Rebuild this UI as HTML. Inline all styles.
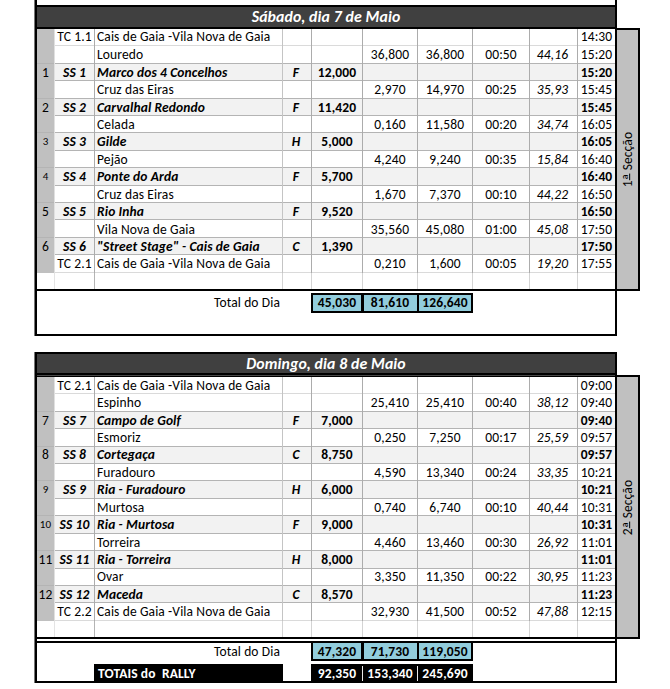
<!DOCTYPE html>
<html><head><meta charset="utf-8"><title>Rally</title><script>(function(){try{var c=document.createElement('canvas').getContext('2d');var t='Cais de Gaia Vila Nova';c.font='50px Carlito,monospace';var a=c.measureText(t).width;c.font='50px monospace';var b=c.measureText(t).width;if(Math.abs(a-b)<0.01){document.documentElement.className+=' nc';}}catch(e){}})();</script><style>
*{margin:0;padding:0;box-sizing:content-box}
html,body{width:670px;height:689px;background:#fff;overflow:hidden}
body{position:relative;font-family:Carlito, "Liberation Sans", sans-serif;font-size:13.5px;color:#000;letter-spacing:0.12px}
.a{position:absolute}
.t{white-space:nowrap;overflow:visible}
.b{font-weight:bold}
.i{font-style:italic}
.bi{font-weight:bold;font-style:italic}
.w{color:#fff}
.sm{font-size:11px}
.hd{font-size:15.8px;font-weight:bold;font-style:italic;color:#fff}
.sec{display:flex;align-items:center;justify-content:center}
.sec span{display:block;transform:rotate(-90deg);white-space:nowrap}
.ord{font-weight:normal;font-size:1.2em;line-height:0;vertical-align:-2px;text-decoration:underline 1px;text-underline-offset:-5px}
.nc body{font-size:11.8px;letter-spacing:0}
.nc .hd{font-size:14.4px}
.nc .sm{font-size:9.6px}
</style></head>
<body>
<div class="a" style="left:34px;top:0px;width:1px;height:5px;background:#777;"></div>
<div class="a" style="left:35px;top:0px;width:2px;height:5px;background:#000;"></div>
<div class="a" style="left:615px;top:0px;width:2px;height:5px;background:#000;"></div>
<div class="a" style="left:34px;top:5px;width:583px;height:2px;background:#000;"></div>
<div class="a" style="left:37px;top:7px;width:578px;height:20px;background:#404040;"></div>
<div class="a t hd" style="left:37px;top:7px;width:578px;height:20px;line-height:20px;text-align:center;">Sábado, dia 7 de Maio</div>
<div class="a" style="left:34px;top:27px;width:583px;height:2px;background:#000;"></div>
<div class="a" style="left:37px;top:29px;width:17px;height:17px;background:#c0c0c0;"></div>
<div class="a" style="left:37px;top:46px;width:17px;height:18px;background:#c0c0c0;"></div>
<div class="a" style="left:55px;top:64px;width:560px;height:16px;background:#f2f2f2;"></div>
<div class="a" style="left:37px;top:64px;width:17px;height:17px;background:#c0c0c0;"></div>
<div class="a" style="left:37px;top:81px;width:17px;height:18px;background:#c0c0c0;"></div>
<div class="a" style="left:55px;top:99px;width:560px;height:16px;background:#f2f2f2;"></div>
<div class="a" style="left:37px;top:99px;width:17px;height:17px;background:#c0c0c0;"></div>
<div class="a" style="left:37px;top:116px;width:17px;height:17px;background:#c0c0c0;"></div>
<div class="a" style="left:55px;top:133px;width:560px;height:17px;background:#f2f2f2;"></div>
<div class="a" style="left:37px;top:133px;width:17px;height:18px;background:#c0c0c0;"></div>
<div class="a" style="left:37px;top:151px;width:17px;height:17px;background:#c0c0c0;"></div>
<div class="a" style="left:55px;top:168px;width:560px;height:17px;background:#f2f2f2;"></div>
<div class="a" style="left:37px;top:168px;width:17px;height:18px;background:#c0c0c0;"></div>
<div class="a" style="left:37px;top:186px;width:17px;height:17px;background:#c0c0c0;"></div>
<div class="a" style="left:55px;top:203px;width:560px;height:16px;background:#f2f2f2;"></div>
<div class="a" style="left:37px;top:203px;width:17px;height:17px;background:#c0c0c0;"></div>
<div class="a" style="left:37px;top:220px;width:17px;height:18px;background:#c0c0c0;"></div>
<div class="a" style="left:55px;top:238px;width:560px;height:16px;background:#f2f2f2;"></div>
<div class="a" style="left:37px;top:238px;width:17px;height:17px;background:#c0c0c0;"></div>
<div class="a" style="left:37px;top:255px;width:17px;height:18px;background:#c0c0c0;"></div>
<div class="a" style="left:55px;top:45px;width:560px;height:1px;background:#dadada;"></div>
<div class="a" style="left:55px;top:63px;width:560px;height:1px;background:#b4b4b4;"></div>
<div class="a" style="left:37px;top:63px;width:17px;height:1px;background:#b4b4b4;"></div>
<div class="a" style="left:55px;top:80px;width:560px;height:1px;background:#b4b4b4;"></div>
<div class="a" style="left:55px;top:98px;width:560px;height:1px;background:#b4b4b4;"></div>
<div class="a" style="left:37px;top:98px;width:17px;height:1px;background:#b4b4b4;"></div>
<div class="a" style="left:55px;top:115px;width:560px;height:1px;background:#b4b4b4;"></div>
<div class="a" style="left:55px;top:132px;width:560px;height:1px;background:#b4b4b4;"></div>
<div class="a" style="left:37px;top:132px;width:17px;height:1px;background:#b4b4b4;"></div>
<div class="a" style="left:55px;top:150px;width:560px;height:1px;background:#b4b4b4;"></div>
<div class="a" style="left:55px;top:167px;width:560px;height:1px;background:#b4b4b4;"></div>
<div class="a" style="left:37px;top:167px;width:17px;height:1px;background:#b4b4b4;"></div>
<div class="a" style="left:55px;top:185px;width:560px;height:1px;background:#b4b4b4;"></div>
<div class="a" style="left:55px;top:202px;width:560px;height:1px;background:#b4b4b4;"></div>
<div class="a" style="left:37px;top:202px;width:17px;height:1px;background:#b4b4b4;"></div>
<div class="a" style="left:55px;top:219px;width:560px;height:1px;background:#b4b4b4;"></div>
<div class="a" style="left:55px;top:237px;width:560px;height:1px;background:#b4b4b4;"></div>
<div class="a" style="left:37px;top:237px;width:17px;height:1px;background:#b4b4b4;"></div>
<div class="a" style="left:55px;top:254px;width:560px;height:1px;background:#b4b4b4;"></div>
<div class="a" style="left:55px;top:272px;width:560px;height:1px;background:#dadada;"></div>
<div class="a" style="left:54px;top:29px;width:1px;height:244px;background:#e0e0e0;"></div>
<div class="a" style="left:54px;top:273px;width:1px;height:16px;background:#e4e4e4;"></div>
<div class="a" style="left:94px;top:29px;width:1px;height:244px;background:#acacac;"></div>
<div class="a" style="left:94px;top:273px;width:1px;height:16px;background:#b4b4b4;"></div>
<div class="a" style="left:282px;top:29px;width:1px;height:244px;background:#c4c4c4;"></div>
<div class="a" style="left:282px;top:273px;width:1px;height:16px;background:#d4d4d4;"></div>
<div class="a" style="left:311px;top:29px;width:1px;height:244px;background:#acacac;"></div>
<div class="a" style="left:311px;top:273px;width:1px;height:16px;background:#d4d4d4;"></div>
<div class="a" style="left:362px;top:29px;width:1px;height:244px;background:#acacac;"></div>
<div class="a" style="left:362px;top:273px;width:1px;height:16px;background:#d4d4d4;"></div>
<div class="a" style="left:417px;top:29px;width:1px;height:244px;background:#acacac;"></div>
<div class="a" style="left:417px;top:273px;width:1px;height:16px;background:#d4d4d4;"></div>
<div class="a" style="left:472px;top:29px;width:1px;height:244px;background:#acacac;"></div>
<div class="a" style="left:472px;top:273px;width:1px;height:16px;background:#d4d4d4;"></div>
<div class="a" style="left:529px;top:29px;width:1px;height:244px;background:#acacac;"></div>
<div class="a" style="left:529px;top:273px;width:1px;height:16px;background:#d4d4d4;"></div>
<div class="a" style="left:577px;top:29px;width:1px;height:244px;background:#acacac;"></div>
<div class="a" style="left:577px;top:273px;width:1px;height:16px;background:#d4d4d4;"></div>
<div class="a t " style="left:55px;top:28px;width:39px;height:17px;line-height:17px;text-align:center;">TC 1.1</div>
<div class="a t " style="left:95px;top:28px;width:187px;height:17px;line-height:17px;text-align:left;padding-left:2px;width:185px;">Cais de Gaia -Vila Nova de Gaia</div>
<div class="a t " style="left:578px;top:28px;width:37px;height:17px;line-height:17px;text-align:center;">14:30</div>
<div class="a t " style="left:95px;top:46px;width:187px;height:17px;line-height:17px;text-align:left;padding-left:2px;width:185px;">Louredo</div>
<div class="a t " style="left:363px;top:46px;width:54px;height:17px;line-height:17px;text-align:center;">36,800</div>
<div class="a t " style="left:418px;top:46px;width:54px;height:17px;line-height:17px;text-align:center;">36,800</div>
<div class="a t " style="left:473px;top:46px;width:56px;height:17px;line-height:17px;text-align:center;">00:50</div>
<div class="a t i" style="left:530px;top:46px;width:45px;height:17px;line-height:17px;text-align:center;">44,16</div>
<div class="a t " style="left:578px;top:46px;width:37px;height:17px;line-height:17px;text-align:center;">15:20</div>
<div class="a t " style="left:37px;top:64px;width:17px;height:17px;line-height:17px;text-align:center;">1</div>
<div class="a t bi" style="left:55px;top:64px;width:39px;height:17px;line-height:17px;text-align:center;">SS 1</div>
<div class="a t bi" style="left:95px;top:64px;width:187px;height:17px;line-height:17px;text-align:left;padding-left:2px;width:185px;">Marco dos 4 Concelhos</div>
<div class="a t bi" style="left:283px;top:64px;width:26px;height:17px;line-height:17px;text-align:center;">F</div>
<div class="a t b" style="left:312px;top:64px;width:50px;height:17px;line-height:17px;text-align:center;">12,000</div>
<div class="a t b" style="left:578px;top:64px;width:37px;height:17px;line-height:17px;text-align:center;">15:20</div>
<div class="a t " style="left:95px;top:81px;width:187px;height:17px;line-height:17px;text-align:left;padding-left:2px;width:185px;">Cruz das Eiras</div>
<div class="a t " style="left:363px;top:81px;width:54px;height:17px;line-height:17px;text-align:center;">2,970</div>
<div class="a t " style="left:418px;top:81px;width:54px;height:17px;line-height:17px;text-align:center;">14,970</div>
<div class="a t " style="left:473px;top:81px;width:56px;height:17px;line-height:17px;text-align:center;">00:25</div>
<div class="a t i" style="left:530px;top:81px;width:45px;height:17px;line-height:17px;text-align:center;">35,93</div>
<div class="a t " style="left:578px;top:81px;width:37px;height:17px;line-height:17px;text-align:center;">15:45</div>
<div class="a t " style="left:37px;top:99px;width:17px;height:17px;line-height:17px;text-align:center;">2</div>
<div class="a t bi" style="left:55px;top:99px;width:39px;height:17px;line-height:17px;text-align:center;">SS 2</div>
<div class="a t bi" style="left:95px;top:99px;width:187px;height:17px;line-height:17px;text-align:left;padding-left:2px;width:185px;">Carvalhal Redondo</div>
<div class="a t bi" style="left:283px;top:99px;width:26px;height:17px;line-height:17px;text-align:center;">F</div>
<div class="a t b" style="left:312px;top:99px;width:50px;height:17px;line-height:17px;text-align:center;">11,420</div>
<div class="a t b" style="left:578px;top:99px;width:37px;height:17px;line-height:17px;text-align:center;">15:45</div>
<div class="a t " style="left:95px;top:116px;width:187px;height:17px;line-height:17px;text-align:left;padding-left:2px;width:185px;">Celada</div>
<div class="a t " style="left:363px;top:116px;width:54px;height:17px;line-height:17px;text-align:center;">0,160</div>
<div class="a t " style="left:418px;top:116px;width:54px;height:17px;line-height:17px;text-align:center;">11,580</div>
<div class="a t " style="left:473px;top:116px;width:56px;height:17px;line-height:17px;text-align:center;">00:20</div>
<div class="a t i" style="left:530px;top:116px;width:45px;height:17px;line-height:17px;text-align:center;">34,74</div>
<div class="a t " style="left:578px;top:116px;width:37px;height:17px;line-height:17px;text-align:center;">16:05</div>
<div class="a t sm" style="left:37px;top:133px;width:17px;height:17px;line-height:17px;text-align:center;">3</div>
<div class="a t bi" style="left:55px;top:133px;width:39px;height:17px;line-height:17px;text-align:center;">SS 3</div>
<div class="a t bi" style="left:95px;top:133px;width:187px;height:17px;line-height:17px;text-align:left;padding-left:2px;width:185px;">Gilde</div>
<div class="a t bi" style="left:283px;top:133px;width:26px;height:17px;line-height:17px;text-align:center;">H</div>
<div class="a t b" style="left:312px;top:133px;width:50px;height:17px;line-height:17px;text-align:center;">5,000</div>
<div class="a t b" style="left:578px;top:133px;width:37px;height:17px;line-height:17px;text-align:center;">16:05</div>
<div class="a t " style="left:95px;top:151px;width:187px;height:17px;line-height:17px;text-align:left;padding-left:2px;width:185px;">Pejão</div>
<div class="a t " style="left:363px;top:151px;width:54px;height:17px;line-height:17px;text-align:center;">4,240</div>
<div class="a t " style="left:418px;top:151px;width:54px;height:17px;line-height:17px;text-align:center;">9,240</div>
<div class="a t " style="left:473px;top:151px;width:56px;height:17px;line-height:17px;text-align:center;">00:35</div>
<div class="a t i" style="left:530px;top:151px;width:45px;height:17px;line-height:17px;text-align:center;">15,84</div>
<div class="a t " style="left:578px;top:151px;width:37px;height:17px;line-height:17px;text-align:center;">16:40</div>
<div class="a t sm" style="left:37px;top:168px;width:17px;height:17px;line-height:17px;text-align:center;">4</div>
<div class="a t bi" style="left:55px;top:168px;width:39px;height:17px;line-height:17px;text-align:center;">SS 4</div>
<div class="a t bi" style="left:95px;top:168px;width:187px;height:17px;line-height:17px;text-align:left;padding-left:2px;width:185px;">Ponte do Arda</div>
<div class="a t bi" style="left:283px;top:168px;width:26px;height:17px;line-height:17px;text-align:center;">F</div>
<div class="a t b" style="left:312px;top:168px;width:50px;height:17px;line-height:17px;text-align:center;">5,700</div>
<div class="a t b" style="left:578px;top:168px;width:37px;height:17px;line-height:17px;text-align:center;">16:40</div>
<div class="a t " style="left:95px;top:186px;width:187px;height:17px;line-height:17px;text-align:left;padding-left:2px;width:185px;">Cruz das Eiras</div>
<div class="a t " style="left:363px;top:186px;width:54px;height:17px;line-height:17px;text-align:center;">1,670</div>
<div class="a t " style="left:418px;top:186px;width:54px;height:17px;line-height:17px;text-align:center;">7,370</div>
<div class="a t " style="left:473px;top:186px;width:56px;height:17px;line-height:17px;text-align:center;">00:10</div>
<div class="a t i" style="left:530px;top:186px;width:45px;height:17px;line-height:17px;text-align:center;">44,22</div>
<div class="a t " style="left:578px;top:186px;width:37px;height:17px;line-height:17px;text-align:center;">16:50</div>
<div class="a t " style="left:37px;top:203px;width:17px;height:17px;line-height:17px;text-align:center;">5</div>
<div class="a t bi" style="left:55px;top:203px;width:39px;height:17px;line-height:17px;text-align:center;">SS 5</div>
<div class="a t bi" style="left:95px;top:203px;width:187px;height:17px;line-height:17px;text-align:left;padding-left:2px;width:185px;">Rio Inha</div>
<div class="a t bi" style="left:283px;top:203px;width:26px;height:17px;line-height:17px;text-align:center;">F</div>
<div class="a t b" style="left:312px;top:203px;width:50px;height:17px;line-height:17px;text-align:center;">9,520</div>
<div class="a t b" style="left:578px;top:203px;width:37px;height:17px;line-height:17px;text-align:center;">16:50</div>
<div class="a t " style="left:95px;top:221px;width:187px;height:17px;line-height:17px;text-align:left;padding-left:2px;width:185px;">Vila Nova de Gaia</div>
<div class="a t " style="left:363px;top:221px;width:54px;height:17px;line-height:17px;text-align:center;">35,560</div>
<div class="a t " style="left:418px;top:221px;width:54px;height:17px;line-height:17px;text-align:center;">45,080</div>
<div class="a t " style="left:473px;top:221px;width:56px;height:17px;line-height:17px;text-align:center;">01:00</div>
<div class="a t i" style="left:530px;top:221px;width:45px;height:17px;line-height:17px;text-align:center;">45,08</div>
<div class="a t " style="left:578px;top:221px;width:37px;height:17px;line-height:17px;text-align:center;">17:50</div>
<div class="a t " style="left:37px;top:238px;width:17px;height:17px;line-height:17px;text-align:center;">6</div>
<div class="a t bi" style="left:55px;top:238px;width:39px;height:17px;line-height:17px;text-align:center;">SS 6</div>
<div class="a t bi" style="left:95px;top:238px;width:187px;height:17px;line-height:17px;text-align:left;padding-left:2px;width:185px;">"Street Stage" - Cais de Gaia</div>
<div class="a t bi" style="left:283px;top:238px;width:26px;height:17px;line-height:17px;text-align:center;">C</div>
<div class="a t b" style="left:312px;top:238px;width:50px;height:17px;line-height:17px;text-align:center;">1,390</div>
<div class="a t b" style="left:578px;top:238px;width:37px;height:17px;line-height:17px;text-align:center;">17:50</div>
<div class="a t " style="left:55px;top:255px;width:39px;height:17px;line-height:17px;text-align:center;">TC 2.1</div>
<div class="a t " style="left:95px;top:255px;width:187px;height:17px;line-height:17px;text-align:left;padding-left:2px;width:185px;">Cais de Gaia -Vila Nova de Gaia</div>
<div class="a t " style="left:363px;top:255px;width:54px;height:17px;line-height:17px;text-align:center;">0,210</div>
<div class="a t " style="left:418px;top:255px;width:54px;height:17px;line-height:17px;text-align:center;">1,600</div>
<div class="a t " style="left:473px;top:255px;width:56px;height:17px;line-height:17px;text-align:center;">00:05</div>
<div class="a t i" style="left:530px;top:255px;width:45px;height:17px;line-height:17px;text-align:center;">19,20</div>
<div class="a t " style="left:578px;top:255px;width:37px;height:17px;line-height:17px;text-align:center;">17:55</div>
<div class="a" style="left:34px;top:289px;width:583px;height:2px;background:#000;"></div>
<div class="a" style="left:34px;top:334px;width:583px;height:2px;background:#000;"></div>
<div class="a" style="left:34px;top:5px;width:1px;height:331px;background:#777;"></div>
<div class="a" style="left:35px;top:5px;width:2px;height:331px;background:#000;"></div>
<div class="a" style="left:615px;top:5px;width:2px;height:331px;background:#000;"></div>
<div class="a" style="left:615px;top:28px;width:25px;height:263px;background:#000;"></div>
<div class="a" style="left:617px;top:30px;width:21px;height:259px;background:#c0c0c0;"></div>
<div class="a t " style="left:95px;top:291px;width:185px;height:23px;line-height:23px;text-align:right;">Total do Dia</div>
<div class="a" style="left:311px;top:293px;width:162px;height:20px;background:#000;"></div>
<div class="a" style="left:313px;top:295px;width:48px;height:16px;background:#92cddc;"></div>
<div class="a" style="left:364px;top:295px;width:53px;height:16px;background:#92cddc;"></div>
<div class="a" style="left:419px;top:295px;width:52px;height:16px;background:#92cddc;"></div>
<div class="a t b" style="left:312px;top:293px;width:50px;height:20px;line-height:20px;text-align:center;">45,030</div>
<div class="a t b" style="left:363px;top:293px;width:54px;height:20px;line-height:20px;text-align:center;">81,610</div>
<div class="a t b" style="left:418px;top:293px;width:54px;height:20px;line-height:20px;text-align:center;">126,640</div>
<div class="a sec" style="left:617px;top:29px;width:21px;height:260px;"><span>1<b class="ord">ª</b> Secção</span></div>
<div class="a" style="left:34px;top:352px;width:583px;height:2px;background:#000;"></div>
<div class="a" style="left:37px;top:354px;width:578px;height:19px;background:#404040;"></div>
<div class="a t hd" style="left:37px;top:354px;width:578px;height:19px;line-height:19px;text-align:center;">Domingo, dia 8 de Maio</div>
<div class="a" style="left:34px;top:373px;width:583px;height:2px;background:#000;"></div>
<div class="a" style="left:34px;top:375px;width:583px;height:1px;background:#4a4a4a;"></div>
<div class="a" style="left:34px;top:376px;width:583px;height:1px;background:#000;"></div>
<div class="a" style="left:37px;top:377px;width:17px;height:17px;background:#c0c0c0;"></div>
<div class="a" style="left:37px;top:394px;width:17px;height:18px;background:#c0c0c0;"></div>
<div class="a" style="left:55px;top:412px;width:560px;height:16px;background:#f2f2f2;"></div>
<div class="a" style="left:37px;top:412px;width:17px;height:17px;background:#c0c0c0;"></div>
<div class="a" style="left:37px;top:429px;width:17px;height:18px;background:#c0c0c0;"></div>
<div class="a" style="left:55px;top:447px;width:560px;height:16px;background:#f2f2f2;"></div>
<div class="a" style="left:37px;top:447px;width:17px;height:17px;background:#c0c0c0;"></div>
<div class="a" style="left:37px;top:464px;width:17px;height:17px;background:#c0c0c0;"></div>
<div class="a" style="left:55px;top:481px;width:560px;height:17px;background:#f2f2f2;"></div>
<div class="a" style="left:37px;top:481px;width:17px;height:18px;background:#c0c0c0;"></div>
<div class="a" style="left:37px;top:499px;width:17px;height:17px;background:#c0c0c0;"></div>
<div class="a" style="left:55px;top:516px;width:560px;height:17px;background:#f2f2f2;"></div>
<div class="a" style="left:37px;top:516px;width:17px;height:18px;background:#c0c0c0;"></div>
<div class="a" style="left:37px;top:534px;width:17px;height:17px;background:#c0c0c0;"></div>
<div class="a" style="left:55px;top:551px;width:560px;height:17px;background:#f2f2f2;"></div>
<div class="a" style="left:37px;top:551px;width:17px;height:18px;background:#c0c0c0;"></div>
<div class="a" style="left:37px;top:569px;width:17px;height:17px;background:#c0c0c0;"></div>
<div class="a" style="left:55px;top:586px;width:560px;height:16px;background:#f2f2f2;"></div>
<div class="a" style="left:37px;top:586px;width:17px;height:17px;background:#c0c0c0;"></div>
<div class="a" style="left:37px;top:603px;width:17px;height:18px;background:#c0c0c0;"></div>
<div class="a" style="left:55px;top:393px;width:560px;height:1px;background:#dadada;"></div>
<div class="a" style="left:55px;top:411px;width:560px;height:1px;background:#b4b4b4;"></div>
<div class="a" style="left:37px;top:411px;width:17px;height:1px;background:#b4b4b4;"></div>
<div class="a" style="left:55px;top:428px;width:560px;height:1px;background:#b4b4b4;"></div>
<div class="a" style="left:55px;top:446px;width:560px;height:1px;background:#b4b4b4;"></div>
<div class="a" style="left:37px;top:446px;width:17px;height:1px;background:#b4b4b4;"></div>
<div class="a" style="left:55px;top:463px;width:560px;height:1px;background:#b4b4b4;"></div>
<div class="a" style="left:55px;top:480px;width:560px;height:1px;background:#b4b4b4;"></div>
<div class="a" style="left:37px;top:480px;width:17px;height:1px;background:#b4b4b4;"></div>
<div class="a" style="left:55px;top:498px;width:560px;height:1px;background:#b4b4b4;"></div>
<div class="a" style="left:55px;top:515px;width:560px;height:1px;background:#b4b4b4;"></div>
<div class="a" style="left:37px;top:515px;width:17px;height:1px;background:#b4b4b4;"></div>
<div class="a" style="left:55px;top:533px;width:560px;height:1px;background:#b4b4b4;"></div>
<div class="a" style="left:55px;top:550px;width:560px;height:1px;background:#b4b4b4;"></div>
<div class="a" style="left:37px;top:550px;width:17px;height:1px;background:#b4b4b4;"></div>
<div class="a" style="left:55px;top:568px;width:560px;height:1px;background:#b4b4b4;"></div>
<div class="a" style="left:55px;top:585px;width:560px;height:1px;background:#b4b4b4;"></div>
<div class="a" style="left:37px;top:585px;width:17px;height:1px;background:#b4b4b4;"></div>
<div class="a" style="left:55px;top:602px;width:560px;height:1px;background:#b4b4b4;"></div>
<div class="a" style="left:55px;top:620px;width:560px;height:1px;background:#dadada;"></div>
<div class="a" style="left:54px;top:377px;width:1px;height:244px;background:#e0e0e0;"></div>
<div class="a" style="left:54px;top:621px;width:1px;height:16px;background:#e4e4e4;"></div>
<div class="a" style="left:94px;top:377px;width:1px;height:244px;background:#acacac;"></div>
<div class="a" style="left:94px;top:621px;width:1px;height:16px;background:#b4b4b4;"></div>
<div class="a" style="left:282px;top:377px;width:1px;height:244px;background:#c4c4c4;"></div>
<div class="a" style="left:282px;top:621px;width:1px;height:16px;background:#d4d4d4;"></div>
<div class="a" style="left:311px;top:377px;width:1px;height:244px;background:#acacac;"></div>
<div class="a" style="left:311px;top:621px;width:1px;height:16px;background:#d4d4d4;"></div>
<div class="a" style="left:362px;top:377px;width:1px;height:244px;background:#acacac;"></div>
<div class="a" style="left:362px;top:621px;width:1px;height:16px;background:#d4d4d4;"></div>
<div class="a" style="left:417px;top:377px;width:1px;height:244px;background:#acacac;"></div>
<div class="a" style="left:417px;top:621px;width:1px;height:16px;background:#d4d4d4;"></div>
<div class="a" style="left:472px;top:377px;width:1px;height:244px;background:#acacac;"></div>
<div class="a" style="left:472px;top:621px;width:1px;height:16px;background:#d4d4d4;"></div>
<div class="a" style="left:529px;top:377px;width:1px;height:244px;background:#acacac;"></div>
<div class="a" style="left:529px;top:621px;width:1px;height:16px;background:#d4d4d4;"></div>
<div class="a" style="left:577px;top:377px;width:1px;height:244px;background:#acacac;"></div>
<div class="a" style="left:577px;top:621px;width:1px;height:16px;background:#d4d4d4;"></div>
<div class="a t " style="left:55px;top:377px;width:39px;height:17px;line-height:17px;text-align:center;">TC 2.1</div>
<div class="a t " style="left:95px;top:377px;width:187px;height:17px;line-height:17px;text-align:left;padding-left:2px;width:185px;">Cais de Gaia -Vila Nova de Gaia</div>
<div class="a t " style="left:578px;top:377px;width:37px;height:17px;line-height:17px;text-align:center;">09:00</div>
<div class="a t " style="left:95px;top:394px;width:187px;height:17px;line-height:17px;text-align:left;padding-left:2px;width:185px;">Espinho</div>
<div class="a t " style="left:363px;top:394px;width:54px;height:17px;line-height:17px;text-align:center;">25,410</div>
<div class="a t " style="left:418px;top:394px;width:54px;height:17px;line-height:17px;text-align:center;">25,410</div>
<div class="a t " style="left:473px;top:394px;width:56px;height:17px;line-height:17px;text-align:center;">00:40</div>
<div class="a t i" style="left:530px;top:394px;width:45px;height:17px;line-height:17px;text-align:center;">38,12</div>
<div class="a t " style="left:578px;top:394px;width:37px;height:17px;line-height:17px;text-align:center;">09:40</div>
<div class="a t " style="left:37px;top:412px;width:17px;height:17px;line-height:17px;text-align:center;">7</div>
<div class="a t bi" style="left:55px;top:412px;width:39px;height:17px;line-height:17px;text-align:center;">SS 7</div>
<div class="a t bi" style="left:95px;top:412px;width:187px;height:17px;line-height:17px;text-align:left;padding-left:2px;width:185px;">Campo de Golf</div>
<div class="a t bi" style="left:283px;top:412px;width:26px;height:17px;line-height:17px;text-align:center;">F</div>
<div class="a t b" style="left:312px;top:412px;width:50px;height:17px;line-height:17px;text-align:center;">7,000</div>
<div class="a t b" style="left:578px;top:412px;width:37px;height:17px;line-height:17px;text-align:center;">09:40</div>
<div class="a t " style="left:95px;top:429px;width:187px;height:17px;line-height:17px;text-align:left;padding-left:2px;width:185px;">Esmoriz</div>
<div class="a t " style="left:363px;top:429px;width:54px;height:17px;line-height:17px;text-align:center;">0,250</div>
<div class="a t " style="left:418px;top:429px;width:54px;height:17px;line-height:17px;text-align:center;">7,250</div>
<div class="a t " style="left:473px;top:429px;width:56px;height:17px;line-height:17px;text-align:center;">00:17</div>
<div class="a t i" style="left:530px;top:429px;width:45px;height:17px;line-height:17px;text-align:center;">25,59</div>
<div class="a t " style="left:578px;top:429px;width:37px;height:17px;line-height:17px;text-align:center;">09:57</div>
<div class="a t " style="left:37px;top:446px;width:17px;height:17px;line-height:17px;text-align:center;">8</div>
<div class="a t bi" style="left:55px;top:446px;width:39px;height:17px;line-height:17px;text-align:center;">SS 8</div>
<div class="a t bi" style="left:95px;top:446px;width:187px;height:17px;line-height:17px;text-align:left;padding-left:2px;width:185px;">Cortegaça</div>
<div class="a t bi" style="left:283px;top:446px;width:26px;height:17px;line-height:17px;text-align:center;">C</div>
<div class="a t b" style="left:312px;top:446px;width:50px;height:17px;line-height:17px;text-align:center;">8,750</div>
<div class="a t b" style="left:578px;top:446px;width:37px;height:17px;line-height:17px;text-align:center;">09:57</div>
<div class="a t " style="left:95px;top:464px;width:187px;height:17px;line-height:17px;text-align:left;padding-left:2px;width:185px;">Furadouro</div>
<div class="a t " style="left:363px;top:464px;width:54px;height:17px;line-height:17px;text-align:center;">4,590</div>
<div class="a t " style="left:418px;top:464px;width:54px;height:17px;line-height:17px;text-align:center;">13,340</div>
<div class="a t " style="left:473px;top:464px;width:56px;height:17px;line-height:17px;text-align:center;">00:24</div>
<div class="a t i" style="left:530px;top:464px;width:45px;height:17px;line-height:17px;text-align:center;">33,35</div>
<div class="a t " style="left:578px;top:464px;width:37px;height:17px;line-height:17px;text-align:center;">10:21</div>
<div class="a t sm" style="left:37px;top:481px;width:17px;height:17px;line-height:17px;text-align:center;">9</div>
<div class="a t bi" style="left:55px;top:481px;width:39px;height:17px;line-height:17px;text-align:center;">SS 9</div>
<div class="a t bi" style="left:95px;top:481px;width:187px;height:17px;line-height:17px;text-align:left;padding-left:2px;width:185px;">Ria - Furadouro</div>
<div class="a t bi" style="left:283px;top:481px;width:26px;height:17px;line-height:17px;text-align:center;">H</div>
<div class="a t b" style="left:312px;top:481px;width:50px;height:17px;line-height:17px;text-align:center;">6,000</div>
<div class="a t b" style="left:578px;top:481px;width:37px;height:17px;line-height:17px;text-align:center;">10:21</div>
<div class="a t " style="left:95px;top:499px;width:187px;height:17px;line-height:17px;text-align:left;padding-left:2px;width:185px;">Murtosa</div>
<div class="a t " style="left:363px;top:499px;width:54px;height:17px;line-height:17px;text-align:center;">0,740</div>
<div class="a t " style="left:418px;top:499px;width:54px;height:17px;line-height:17px;text-align:center;">6,740</div>
<div class="a t " style="left:473px;top:499px;width:56px;height:17px;line-height:17px;text-align:center;">00:10</div>
<div class="a t i" style="left:530px;top:499px;width:45px;height:17px;line-height:17px;text-align:center;">40,44</div>
<div class="a t " style="left:578px;top:499px;width:37px;height:17px;line-height:17px;text-align:center;">10:31</div>
<div class="a t sm" style="left:37px;top:516px;width:17px;height:17px;line-height:17px;text-align:center;">10</div>
<div class="a t bi" style="left:55px;top:516px;width:39px;height:17px;line-height:17px;text-align:center;">SS 10</div>
<div class="a t bi" style="left:95px;top:516px;width:187px;height:17px;line-height:17px;text-align:left;padding-left:2px;width:185px;">Ria - Murtosa</div>
<div class="a t bi" style="left:283px;top:516px;width:26px;height:17px;line-height:17px;text-align:center;">F</div>
<div class="a t b" style="left:312px;top:516px;width:50px;height:17px;line-height:17px;text-align:center;">9,000</div>
<div class="a t b" style="left:578px;top:516px;width:37px;height:17px;line-height:17px;text-align:center;">10:31</div>
<div class="a t " style="left:95px;top:534px;width:187px;height:17px;line-height:17px;text-align:left;padding-left:2px;width:185px;">Torreira</div>
<div class="a t " style="left:363px;top:534px;width:54px;height:17px;line-height:17px;text-align:center;">4,460</div>
<div class="a t " style="left:418px;top:534px;width:54px;height:17px;line-height:17px;text-align:center;">13,460</div>
<div class="a t " style="left:473px;top:534px;width:56px;height:17px;line-height:17px;text-align:center;">00:30</div>
<div class="a t i" style="left:530px;top:534px;width:45px;height:17px;line-height:17px;text-align:center;">26,92</div>
<div class="a t " style="left:578px;top:534px;width:37px;height:17px;line-height:17px;text-align:center;">11:01</div>
<div class="a t " style="left:37px;top:551px;width:17px;height:17px;line-height:17px;text-align:center;">11</div>
<div class="a t bi" style="left:55px;top:551px;width:39px;height:17px;line-height:17px;text-align:center;">SS 11</div>
<div class="a t bi" style="left:95px;top:551px;width:187px;height:17px;line-height:17px;text-align:left;padding-left:2px;width:185px;">Ria - Torreira</div>
<div class="a t bi" style="left:283px;top:551px;width:26px;height:17px;line-height:17px;text-align:center;">H</div>
<div class="a t b" style="left:312px;top:551px;width:50px;height:17px;line-height:17px;text-align:center;">8,000</div>
<div class="a t b" style="left:578px;top:551px;width:37px;height:17px;line-height:17px;text-align:center;">11:01</div>
<div class="a t " style="left:95px;top:568px;width:187px;height:17px;line-height:17px;text-align:left;padding-left:2px;width:185px;">Ovar</div>
<div class="a t " style="left:363px;top:568px;width:54px;height:17px;line-height:17px;text-align:center;">3,350</div>
<div class="a t " style="left:418px;top:568px;width:54px;height:17px;line-height:17px;text-align:center;">11,350</div>
<div class="a t " style="left:473px;top:568px;width:56px;height:17px;line-height:17px;text-align:center;">00:22</div>
<div class="a t i" style="left:530px;top:568px;width:45px;height:17px;line-height:17px;text-align:center;">30,95</div>
<div class="a t " style="left:578px;top:568px;width:37px;height:17px;line-height:17px;text-align:center;">11:23</div>
<div class="a t " style="left:37px;top:586px;width:17px;height:17px;line-height:17px;text-align:center;">12</div>
<div class="a t bi" style="left:55px;top:586px;width:39px;height:17px;line-height:17px;text-align:center;">SS 12</div>
<div class="a t bi" style="left:95px;top:586px;width:187px;height:17px;line-height:17px;text-align:left;padding-left:2px;width:185px;">Maceda</div>
<div class="a t bi" style="left:283px;top:586px;width:26px;height:17px;line-height:17px;text-align:center;">C</div>
<div class="a t b" style="left:312px;top:586px;width:50px;height:17px;line-height:17px;text-align:center;">8,570</div>
<div class="a t b" style="left:578px;top:586px;width:37px;height:17px;line-height:17px;text-align:center;">11:23</div>
<div class="a t " style="left:55px;top:603px;width:39px;height:17px;line-height:17px;text-align:center;">TC 2.2</div>
<div class="a t " style="left:95px;top:603px;width:187px;height:17px;line-height:17px;text-align:left;padding-left:2px;width:185px;">Cais de Gaia -Vila Nova de Gaia</div>
<div class="a t " style="left:363px;top:603px;width:54px;height:17px;line-height:17px;text-align:center;">32,930</div>
<div class="a t " style="left:418px;top:603px;width:54px;height:17px;line-height:17px;text-align:center;">41,500</div>
<div class="a t " style="left:473px;top:603px;width:56px;height:17px;line-height:17px;text-align:center;">00:52</div>
<div class="a t i" style="left:530px;top:603px;width:45px;height:17px;line-height:17px;text-align:center;">47,88</div>
<div class="a t " style="left:578px;top:603px;width:37px;height:17px;line-height:17px;text-align:center;">12:15</div>
<div class="a" style="left:34px;top:637px;width:583px;height:2px;background:#000;"></div>
<div class="a" style="left:34px;top:641px;width:583px;height:2px;background:#000;"></div>
<div class="a" style="left:34px;top:681px;width:583px;height:2px;background:#000;"></div>
<div class="a" style="left:34px;top:352px;width:1px;height:331px;background:#777;"></div>
<div class="a" style="left:35px;top:352px;width:2px;height:331px;background:#000;"></div>
<div class="a" style="left:615px;top:352px;width:2px;height:331px;background:#000;"></div>
<div class="a" style="left:615px;top:375px;width:25px;height:264px;background:#000;"></div>
<div class="a" style="left:617px;top:377px;width:21px;height:260px;background:#c0c0c0;"></div>
<div class="a t " style="left:95px;top:642px;width:185px;height:19px;line-height:19px;text-align:right;">Total do Dia</div>
<div class="a" style="left:311px;top:643px;width:162px;height:18px;background:#000;"></div>
<div class="a" style="left:313px;top:643px;width:48px;height:16px;background:#92cddc;"></div>
<div class="a" style="left:364px;top:643px;width:53px;height:16px;background:#92cddc;"></div>
<div class="a" style="left:419px;top:643px;width:52px;height:16px;background:#92cddc;"></div>
<div class="a t b" style="left:312px;top:643px;width:50px;height:17px;line-height:17px;text-align:center;">47,320</div>
<div class="a t b" style="left:363px;top:643px;width:54px;height:17px;line-height:17px;text-align:center;">71,730</div>
<div class="a t b" style="left:418px;top:643px;width:54px;height:17px;line-height:17px;text-align:center;">119,050</div>
<div class="a" style="left:94px;top:664px;width:189px;height:17px;background:#000;"></div>
<div class="a" style="left:311px;top:664px;width:162px;height:17px;background:#000;"></div>
<div class="a" style="left:362px;top:666px;width:1px;height:15px;background:#e8e8e8;"></div>
<div class="a" style="left:417px;top:666px;width:1px;height:15px;background:#e8e8e8;"></div>
<div class="a t b w" style="left:95px;top:665px;width:188px;height:17px;line-height:17px;text-align:left;padding-left:3px;width:185px;">TOTAIS do&nbsp; RALLY</div>
<div class="a t b w" style="left:312px;top:665px;width:50px;height:17px;line-height:17px;text-align:center;">92,350</div>
<div class="a t b w" style="left:363px;top:665px;width:54px;height:17px;line-height:17px;text-align:center;">153,340</div>
<div class="a t b w" style="left:418px;top:665px;width:54px;height:17px;line-height:17px;text-align:center;">245,690</div>
<div class="a sec" style="left:617px;top:377px;width:21px;height:260px;"><span>2<b class="ord">ª</b> Secção</span></div>
</body></html>
